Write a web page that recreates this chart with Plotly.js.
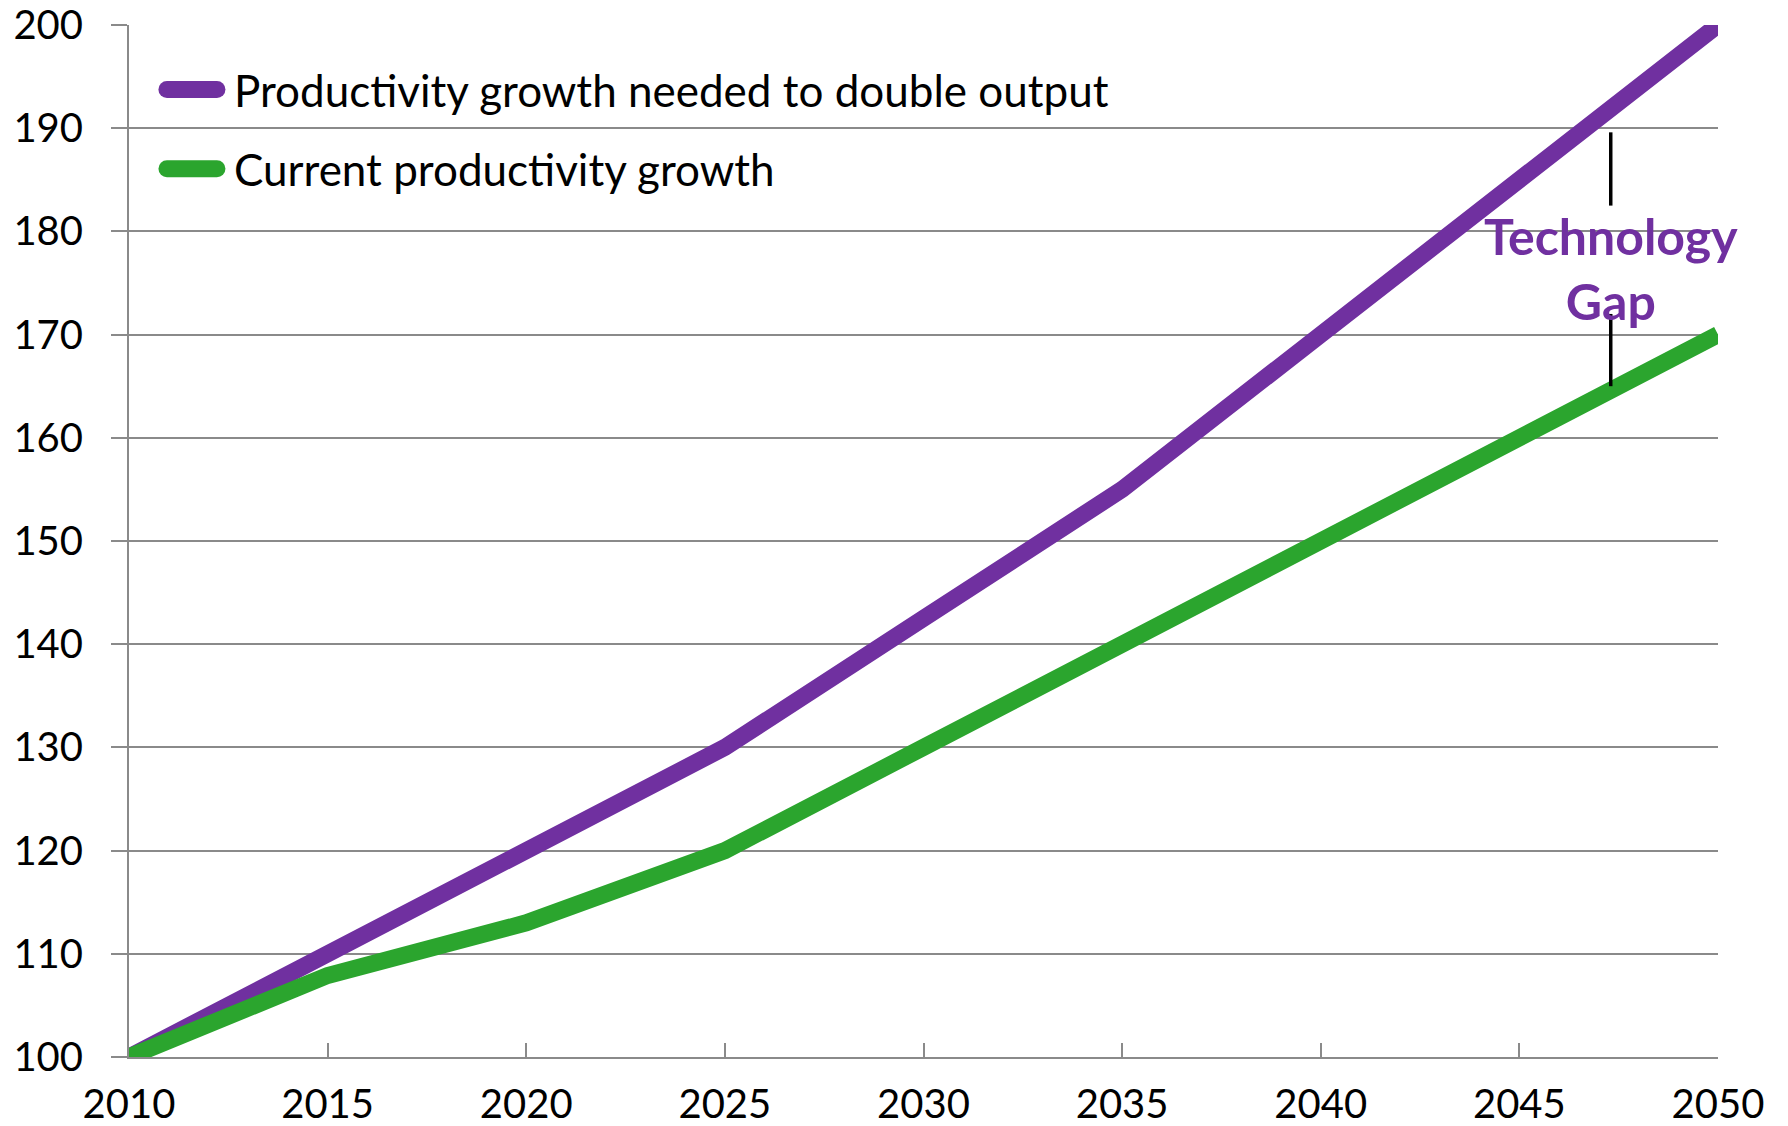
<!DOCTYPE html>
<html>
<head>
<meta charset="utf-8">
<script src="https://cdn.plot.ly/plotly-3.0.1.min.js"></script>
<style>
  html, body { margin: 0; padding: 0; background: #ffffff; }
  #chart { width: 1788px; height: 1126px; }
  .legend path.js-line {
    stroke-linecap: round;
    stroke-width: 17px !important;
    stroke-dasharray: 50 2000 !important;
    stroke-dashoffset: -18px;
  }
</style>
</head>
<body>
<div id="chart"></div>
<script>
// ---- data ----
const years = [2010, 2015, 2020, 2025, 2030, 2035, 2040, 2045, 2050];
const neededGrowth = [100, 110, 120, 130, 142.5, 155, 170, 185, 200];
const currentGrowth = [100, 107.9, 113, 120, 130, 140, 150, 160, 170];
const seriesNames = ["Productivity growth needed to double output", "Current productivity growth"];
const xTickVals = [2010, 2015, 2020, 2025, 2030, 2035, 2040, 2045, 2050];
const yTickVals = [100, 110, 120, 130, 140, 150, 160, 170, 180, 190, 200];
const gapLabel = "Technology<br>Gap";

const purple = "#7030A0";
const green = "#2BA52E";
const grid = "#8a8a8a";
const fontFam = "Lato, 'Open Sans', sans-serif";

const traces = [
  { x: years, y: neededGrowth, name: seriesNames[0], mode: "lines", legendgroup: "a",
    line: { color: purple, width: 17, shape: "linear" }, hoverinfo: "x+y" },
  { x: years, y: currentGrowth, name: seriesNames[1], mode: "lines", legendgroup: "b",
    line: { color: green, width: 17, shape: "linear" }, hoverinfo: "x+y" }
];

const layout = {
  width: 1788, height: 1126,
  paper_bgcolor: "#ffffff", plot_bgcolor: "#ffffff",
  margin: { l: 129, r: 70, t: 25, b: 69 },
  font: { family: fontFam, size: 40, color: "#000000" },
  showlegend: true,
  legend: {
    x: 0.0094, y: 0.9715, xanchor: "left", yanchor: "top",
    bgcolor: "rgba(0,0,0,0)", borderwidth: 0,
    font: { family: fontFam, size: 44, color: "#000000" },
    itemwidth: 80, tracegroupgap: 19, traceorder: "grouped"
  },
  xaxis: {
    range: [2010, 2050], tickmode: "array", tickvals: xTickVals,
    ticks: "inside", ticklen: 14, tickwidth: 2, tickcolor: grid,
    showline: true, linecolor: grid, linewidth: 2,
    showgrid: false, zeroline: false,
    tickfont: { family: fontFam, size: 40, color: "#000" },
    ticklabelstandoff: 11, fixedrange: true
  },
  yaxis: {
    range: [100, 200], tickmode: "array", tickvals: yTickVals,
    ticks: "outside", ticklen: 16, tickwidth: 2, tickcolor: grid,
    showline: true, linecolor: grid, linewidth: 2,
    showgrid: true, gridcolor: grid, gridwidth: 2, zeroline: false,
    tickfont: { family: fontFam, size: 40, color: "#000" },
    ticklabelstandoff: 20, fixedrange: true
  },
  annotations: [
    { x: 2047.3, y: 176.4, xref: "x", yref: "y", text: gapLabel, showarrow: false,
      xanchor: "center", yanchor: "middle", align: "center",
      font: { family: fontFam, size: 50, color: purple, weight: 700 } }
  ],
  shapes: [
    { type: "line", xref: "x", yref: "y", x0: 2047.3, x1: 2047.3, y0: 182.5, y1: 189.6,
      line: { color: "#000000", width: 3.5 } },
    { type: "line", xref: "x", yref: "y", x0: 2047.3, x1: 2047.3, y0: 165.0, y1: 172.0,
      line: { color: "#000000", width: 3.5 } }
  ]
};

Plotly.newPlot("chart", traces, layout, { displayModeBar: false, staticPlot: true });
</script>
</body>
</html>
